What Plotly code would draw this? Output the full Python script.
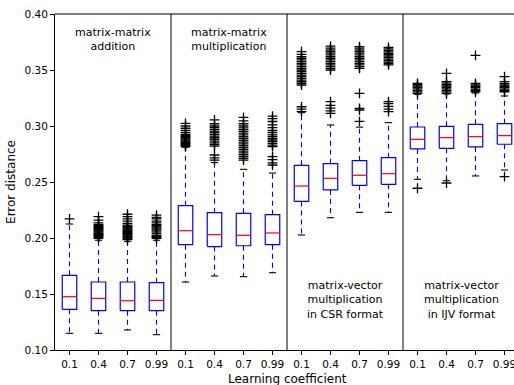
import plotly.graph_objects as go

# ---- data ----
coef_labels = ["0.1", "0.4", "0.7", "0.99"]
panel_titles = [
    "matrix-matrix<br>addition",
    "matrix-matrix<br>multiplication",
    "matrix-vector<br>multiplication<br>in CSR format",
    "matrix-vector<br>multiplication<br>in IJV format",
]

q3 = [0.1667, 0.1607, 0.1607, 0.1601,
      0.2289, 0.2226, 0.2220, 0.2208,
      0.2649, 0.2664, 0.2690, 0.2717,
      0.2991, 0.2997, 0.3015, 0.3021]
median = [0.1476, 0.1461, 0.1440, 0.1443,
          0.2065, 0.2030, 0.2024, 0.2045,
          0.2464, 0.2533, 0.2560, 0.2574,
          0.2881, 0.2896, 0.2905, 0.2914]
q1 = [0.1363, 0.1351, 0.1351, 0.1351,
      0.1940, 0.1923, 0.1931, 0.1940,
      0.2327, 0.2429, 0.2470, 0.2479,
      0.2795, 0.2801, 0.2813, 0.2837]
lower_whisker = [0.1149, 0.1149, 0.1179, 0.1137,
                 0.1607, 0.1661, 0.1655, 0.1690,
                 0.2027, 0.2181, 0.2229, 0.2229,
                 0.2524, 0.2512, 0.2554, 0.2607]
upper_whisker = [0.2125, 0.1980, 0.1970, 0.1980,
                 0.2810, 0.2673, 0.2613, 0.2580,
                 0.3119, 0.3009, 0.2990, 0.3030,
                 0.3283, 0.3286, 0.3295, 0.3268]

outliers = [
    [0.2170],
    [0.1997, 0.2006, 0.2014, 0.2022, 0.2030, 0.2038, 0.2046, 0.2054, 0.2062,
     0.2070, 0.2078, 0.2086, 0.2094, 0.2102, 0.2110, 0.2120, 0.2135, 0.2160, 0.2190],
    [0.1985, 0.1993, 0.2001, 0.2009, 0.2017, 0.2025, 0.2033, 0.2041, 0.2049,
     0.2057, 0.2065, 0.2073, 0.2081, 0.2089, 0.2097, 0.2105, 0.2115, 0.2130,
     0.2150, 0.2170, 0.2190, 0.2212],
    [0.1997, 0.2006, 0.2015, 0.2024, 0.2040, 0.2055, 0.2070, 0.2080, 0.2090,
     0.2100, 0.2110, 0.2120, 0.2135, 0.2150, 0.2170, 0.2185, 0.2205],
    [0.2815, 0.2825, 0.2835, 0.2845, 0.2855, 0.2865, 0.2875, 0.2885, 0.2895,
     0.2905, 0.2915, 0.2925, 0.2940, 0.2960, 0.2980, 0.3000, 0.3024],
    [0.2696, 0.2715, 0.2741, 0.2821, 0.2835, 0.2850, 0.2865, 0.2880, 0.2895,
     0.2910, 0.2925, 0.2940, 0.2955, 0.2970, 0.2985, 0.3000, 0.3020, 0.3054],
    [0.2696, 0.2712, 0.2728, 0.2744, 0.2760, 0.2776, 0.2792, 0.2808, 0.2824,
     0.2840, 0.2856, 0.2872, 0.2888, 0.2904, 0.2920, 0.2936, 0.2952, 0.2968,
     0.2984, 0.3000, 0.3020, 0.3045, 0.3077],
    [0.2652, 0.2670, 0.2700, 0.2726, 0.2815, 0.2830, 0.2845, 0.2860, 0.2875,
     0.2890, 0.2905, 0.2920, 0.2940, 0.2960, 0.2985, 0.3010, 0.3040, 0.3065, 0.3089],
    [0.3128, 0.3150, 0.3172, 0.3366, 0.3380, 0.3395, 0.3410, 0.3425, 0.3440,
     0.3455, 0.3470, 0.3485, 0.3500, 0.3515, 0.3530, 0.3545, 0.3560, 0.3575,
     0.3590, 0.3605, 0.3620, 0.3640, 0.3664],
    [0.3113, 0.3135, 0.3160, 0.3185, 0.3217, 0.3500, 0.3515, 0.3530, 0.3545,
     0.3560, 0.3575, 0.3590, 0.3605, 0.3620, 0.3635, 0.3650, 0.3665, 0.3680,
     0.3695, 0.3714],
    [0.3042, 0.3143, 0.3158, 0.3292, 0.3515, 0.3530, 0.3545, 0.3560, 0.3575,
     0.3590, 0.3605, 0.3620, 0.3635, 0.3650, 0.3665, 0.3680, 0.3695, 0.3708],
    [0.3128, 0.3150, 0.3175, 0.3200, 0.3217, 0.3545, 0.3558, 0.3571, 0.3584,
     0.3597, 0.3610, 0.3623, 0.3636, 0.3649, 0.3662, 0.3675, 0.3688, 0.3702],
    [0.2444, 0.3292, 0.3305, 0.3318, 0.3331, 0.3344, 0.3357, 0.3370, 0.3381],
    [0.2491, 0.3292, 0.3305, 0.3318, 0.3331, 0.3344, 0.3357, 0.3370, 0.3383,
     0.3396, 0.3470],
    [0.3306, 0.3318, 0.3330, 0.3342, 0.3354, 0.3366, 0.3381, 0.3631],
    [0.2548, 0.3306, 0.3318, 0.3330, 0.3342, 0.3354, 0.3366, 0.3381, 0.3396, 0.3440],
]

# ---- build figure ----
n_box = len(median)
positions = list(range(1, n_box + 1))
tick_text = coef_labels * len(panel_titles)
half_w = 0.25   # box half width (data units)
cap_w = 0.125   # cap half width

BLUE = "#0000ff"
RED = "#ff0000"

bx, by = [], []
mx, my = [], []
wx, wy = [], []
cx, cy = [], []
ox, oy = [], []
for i, p in enumerate(positions):
    bx += [p - half_w, p + half_w, p + half_w, p - half_w, p - half_w, None]
    by += [q1[i], q1[i], q3[i], q3[i], q1[i], None]
    mx += [p - half_w, p + half_w, None]
    my += [median[i], median[i], None]
    wx += [p, p, None, p, p, None]
    wy += [q3[i], upper_whisker[i], None, q1[i], lower_whisker[i], None]
    cx += [p - cap_w, p + cap_w, None, p - cap_w, p + cap_w, None]
    cy += [upper_whisker[i], upper_whisker[i], None, lower_whisker[i], lower_whisker[i], None]
    for v in outliers[i]:
        ox.append(p)
        oy.append(v)

fig = go.Figure()
fig.add_trace(go.Scatter(x=wx, y=wy, mode="lines", line=dict(color=BLUE, width=1.1, dash="5px,4px"),
                         hoverinfo="skip"))
fig.add_trace(go.Scatter(x=cx, y=cy, mode="lines", line=dict(color="black", width=1.1), hoverinfo="skip"))
fig.add_trace(go.Scatter(x=bx, y=by, mode="lines", line=dict(color=BLUE, width=1.2), hoverinfo="skip"))
fig.add_trace(go.Scatter(x=mx, y=my, mode="lines", line=dict(color=RED, width=1.2), hoverinfo="skip"))
fig.add_trace(go.Scatter(x=ox, y=oy, mode="markers",
                         marker=dict(symbol="cross-thin", size=7, color="black",
                                     line=dict(color="black", width=1.3))))

W, H = 514, 385
ml, mr, mt, mb = 55, 0, 14, 35
spacing_px = 29.0
x_hi = 0.5 + (W - ml - mr) / spacing_px

shapes = [dict(type="line", xref="paper", yref="paper", x0=0, x1=1, y0=1, y1=1,
               line=dict(color="black", width=1))]
for k in range(1, len(panel_titles)):
    xs = 4 * k + 0.5
    shapes.append(dict(type="line", xref="x", yref="paper", x0=xs, x1=xs, y0=0, y1=1,
                       line=dict(color="black", width=1)))

annotations = []
title_y = [0.3915, 0.3915, 0.165, 0.165]
for k, t in enumerate(panel_titles):
    annotations.append(dict(x=4 * k + 2.5, y=title_y[k], xref="x", yref="y", text=t,
                            showarrow=False, align="center", yanchor="top",
                            font=dict(size=11, color="black", family="DejaVu Sans")))
annotations.append(dict(x=8.5, y=0, xref="x", yref="paper", text="Learning coefficient",
                        showarrow=False, yanchor="middle", yshift=-29,
                        font=dict(size=12, color="black", family="DejaVu Sans")))

fig.update_layout(
    width=W, height=H,
    margin=dict(l=ml, r=mr, t=mt, b=mb, autoexpand=False),
    plot_bgcolor="white", paper_bgcolor="white",
    showlegend=False,
    font=dict(family="DejaVu Sans", size=10, color="black"),
    shapes=shapes, annotations=annotations,
    xaxis=dict(range=[0.5, x_hi], tickmode="array", tickvals=positions, ticktext=tick_text,
               automargin=False, ticklabeloverflow="allow",
               showgrid=False, zeroline=False, showline=True, linecolor="black", linewidth=1,
               ticks="outside", ticklen=4, tickcolor="black", tickfont=dict(size=10.5)),
    yaxis=dict(range=[0.10, 0.40], tickmode="array", automargin=False,
               tickvals=[0.10, 0.15, 0.20, 0.25, 0.30, 0.35, 0.40],
               ticktext=["0.10", "0.15", "0.20", "0.25", "0.30", "0.35", "0.40"],
               showgrid=False, zeroline=False, showline=True, linecolor="black", linewidth=1,
               ticks="outside", ticklen=4, tickcolor="black", tickfont=dict(size=10.5),
               title=dict(text="Error distance", font=dict(size=12), standoff=6)),
)

fig.write_html("out.html", config={"displayModeBar": False},
               post_script="document.body.style.margin='0';document.body.style.padding='0';")
